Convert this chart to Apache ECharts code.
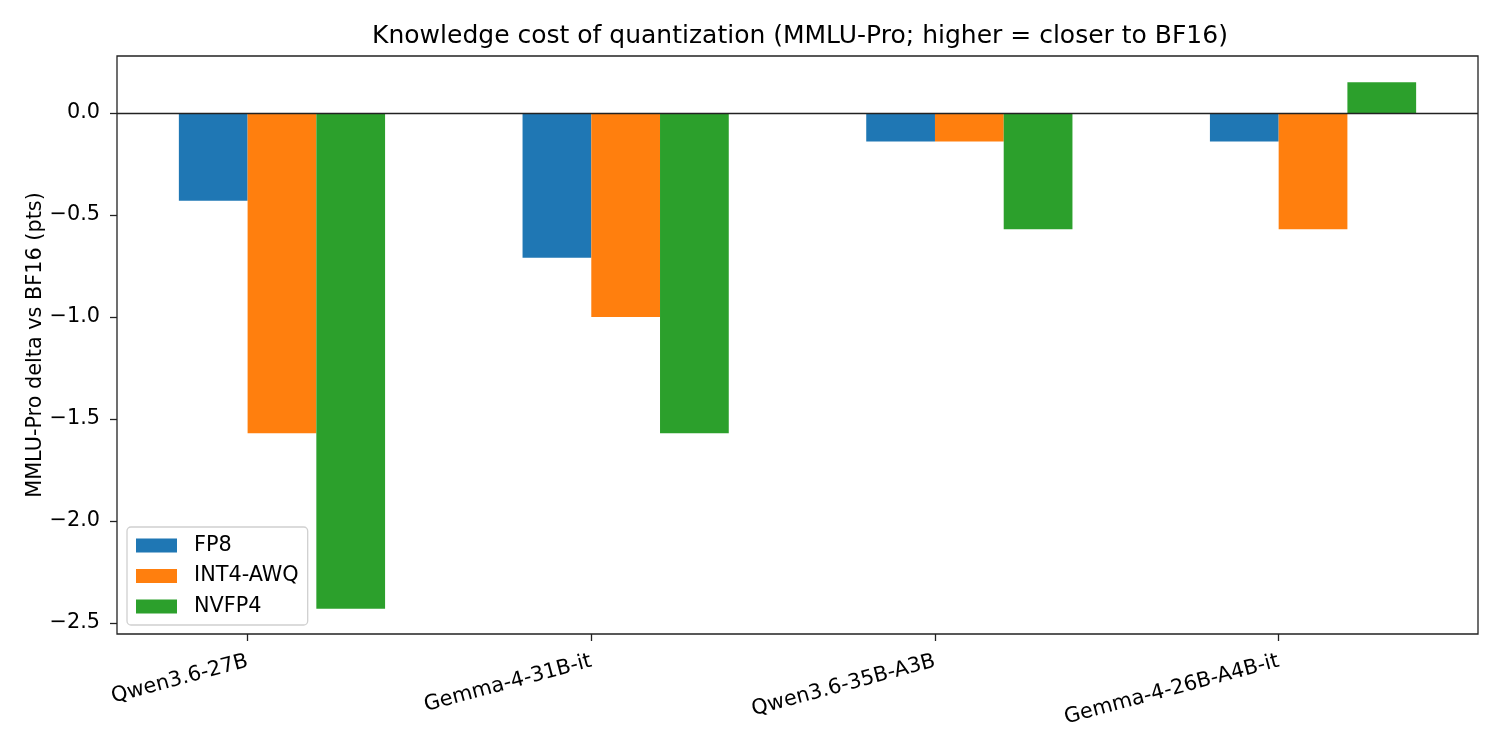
<!DOCTYPE html>
<html>
<head>
<meta charset="utf-8">
<title>Knowledge cost of quantization</title>
<script src="https://cdn.jsdelivr.net/npm/echarts@6/dist/echarts.min.js"></script>
<style>
  html, body { margin: 0; padding: 0; background: #fff; }
  #chart { width: 1500px; height: 750px; }
</style>
</head>
<body>
<div id="chart"></div>
<script>
'use strict';
// data ----------------------------------------------------
var models = ['Qwen3.6-27B', 'Gemma-4-31B-it', 'Qwen3.6-35B-A3B', 'Gemma-4-26B-A4B-it'];
var quantNames = ['FP8', 'INT4-AWQ', 'NVFP4'];
var fp8Delta = [-0.43, -0.71, -0.14, -0.14];
var int4AwqDelta = [-1.57, -1.00, -0.14, -0.57];
var nvfp4Delta = [-2.43, -1.57, -0.57, 0.15];
var yTicks = [0, -0.5, -1.0, -1.5, -2.0, -2.5];
var xTicks = [0, 1, 2, 3];

var colors = ['#1f77b4', '#ff7f0e', '#2ca02c'];
var font = 'DejaVu Sans';
var barW = 0.2;            // width of one bar in category units
var xMin = -0.38, xMax = 3.58;
var plotWidth = 1500 - 117 - 22;

var makeSeries = function (name, values, offset, idx) {
    var s = {
        name: name,
        type: 'bar',
        barWidth: barW * plotWidth / (xMax - xMin),
        barGap: '-100%',
        itemStyle: { color: colors[idx] },
        data: values.map(function (v, i) { return [i + offset, v]; })
    };
    if (idx === 0) {
        // horizontal line at zero, over the bars
        s.markLine = {
            silent: true,
            symbol: 'none',
            z: 10,
            label: { show: false },
            lineStyle: { color: '#222', width: 1.3, type: 'solid' },
            data: [{ yAxis: 0 }]
        };
    }
    return s;
};

var minusFmt = function (v) {
    return v.toFixed(1).replace('-', '\u2212');
};

var tickStyle = { color: '#222', width: 1.3 };

var option = {
    animation: false,
    backgroundColor: '#fff',
    textStyle: { fontFamily: font },
    title: {
        text: 'Knowledge cost of quantization (MMLU-Pro; higher = closer to BF16)',
        left: 795,
        textAlign: 'center',
        top: 19,
        textStyle: { fontFamily: font, fontSize: 25, fontWeight: 'normal', color: '#000' }
    },
    legend: {
        orient: 'vertical',
        left: 127,
        top: 527,
        itemWidth: 41,
        itemHeight: 14,
        itemGap: 9.5,
        padding: [8, 9, 8, 9],
        borderColor: '#d0d0d0',
        borderWidth: 1.3,
        borderRadius: 4,
        backgroundColor: 'rgba(255,255,255,0.8)',
        icon: 'rect',
        textStyle: { fontFamily: font, fontSize: 20.8, color: '#000', padding: [0, 0, 0, 12] },
        data: quantNames
    },
    grid: {
        left: 117,
        right: 22,
        top: 56,
        bottom: 116,
        show: true,
        borderColor: '#222',
        borderWidth: 1.3,
        backgroundColor: 'transparent'
    },
    xAxis: {
        type: 'value',
        min: xMin,
        max: xMax,
        splitLine: { show: false },
        axisLine: { show: false, onZero: false },
        axisTick: { show: true, length: 7, customValues: xTicks, lineStyle: tickStyle },
        axisLabel: {
            customValues: xTicks,
            rotate: 15,
            margin: 27,
            fontFamily: font,
            fontSize: 20.8,
            color: '#000',
            formatter: function (v) { return models[Math.round(v)]; }
        }
    },
    yAxis: {
        type: 'value',
        min: -2.554,
        max: 0.279,
        name: 'MMLU-Pro delta vs BF16 (pts)',
        nameLocation: 'middle',
        nameGap: 71,
        nameMoveOverlap: false,
        nameTextStyle: { fontFamily: font, fontSize: 20.8, color: '#000' },
        splitLine: { show: false },
        axisLine: { show: false, onZero: false },
        axisTick: { show: true, length: 7, customValues: yTicks, lineStyle: tickStyle },
        axisLabel: {
            customValues: yTicks,
            margin: 17,
            fontFamily: font,
            fontSize: 20.8,
            color: '#000',
            formatter: minusFmt
        }
    },
    series: [
        makeSeries(quantNames[0], fp8Delta, -0.1, 0),
        makeSeries(quantNames[1], int4AwqDelta, 0.1, 1),
        makeSeries(quantNames[2], nvfp4Delta, 0.3, 2)
    ]
};

var myChart = echarts.init(document.getElementById('chart'));
myChart.setOption(option);
</script>
</body>
</html>
